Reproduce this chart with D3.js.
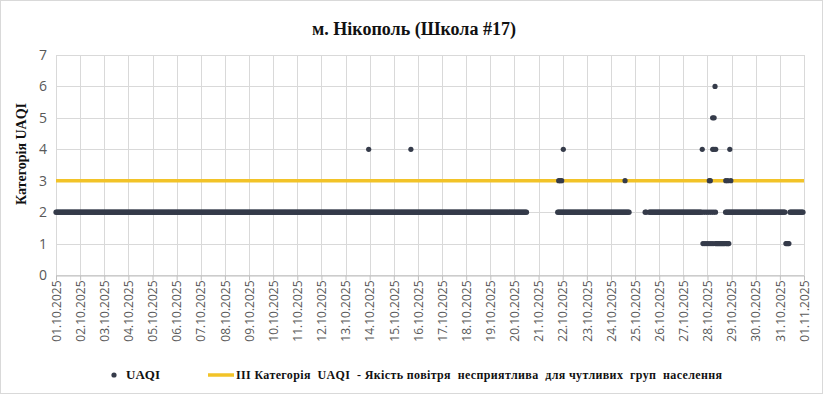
<!DOCTYPE html>
<html>
<head>
<meta charset="utf-8">
<script src="https://cdn.jsdelivr.net/npm/d3@7"></script>
<style>
  body { margin: 0; background: #fff; }
  svg { display: block; }
</style>
</head>
<body>
<svg id="chart" width="823" height="394"></svg>
<script>
// chart texts
const chartTitle = "м. Нікополь (Школа #17)";
const yTitle = "Категорія UAQI";
const seriesName = "UAQI";
const thresholdName = "ІІІ Категорія  UAQI  - Якість повітря  несприятлива  для чутливих  груп  населення";

// x tick labels, one per day
const tickLabels = [
  "01.10.2025", "02.10.2025", "03.10.2025", "04.10.2025", "05.10.2025", "06.10.2025",
  "07.10.2025", "08.10.2025", "09.10.2025", "10.10.2025", "11.10.2025", "12.10.2025",
  "13.10.2025", "14.10.2025", "15.10.2025", "16.10.2025", "17.10.2025", "18.10.2025",
  "19.10.2025", "20.10.2025", "21.10.2025", "22.10.2025", "23.10.2025", "24.10.2025",
  "25.10.2025", "26.10.2025", "27.10.2025", "28.10.2025", "29.10.2025", "30.10.2025",
  "31.10.2025", "01.11.2025"
];
const yTicks = [0, 1, 2, 3, 4, 5, 6, 7];
const thresholdValue = 3;

// hourly readings, hours counted from 01.10.2025 00:00
// stretches of hours where UAQI = 2 [fromHour, toHour]
const runsOf2 = [
  [0, 468], [499, 570], [586, 587], [590, 642], [644, 644], [646, 646],
  [648, 648], [650, 650], [652, 652], [654, 654], [656, 656], [666, 725], [730, 743]
];
// all other readings [hour, UAQI]
const hoursOf1 = [643.5, 645.5, 647.5, 649.5, 651.5, 653.5, 655.9, 657, 658, 659, 660,
  661, 662, 663, 664, 665, 666.5, 667.5, 668.5, 669.2, 726, 727, 728, 729];
const hoursOf3 = [500, 501.5, 503, 566, 649.8, 650.8, 666.2, 668.2, 671.2];
const hoursOf4 = [311, 353, 504.6, 642.8, 653.2, 654.4, 656.2, 670.2];
const hoursOf5 = [653.1, 654.6];
const hoursOf6 = [655.5];

const t0 = Date.UTC(2025, 9, 1);
const hourToDate = h => new Date(t0 + h * 3600e3);

const readings = [];
runsOf2.forEach(([a, b]) => { for (let h = a; h <= b; h++) readings.push([h, 2]); });
[[hoursOf1, 1], [hoursOf3, 3], [hoursOf4, 4], [hoursOf5, 5], [hoursOf6, 6]]
  .forEach(([hs, v]) => hs.forEach(h => readings.push([h, v])));

const svg = d3.select("#chart");
const W = 823, H = 394;

const x = d3.scaleUtc()
  .domain([new Date(t0), hourToDate(31 * 24)])
  .range([56, 804]);
const y = d3.scaleLinear().domain([0, 7]).range([275, 55]);

const dayTicks = tickLabels.map((d, i) => hourToDate(i * 24));

// outer border
svg.append("rect")
  .attr("x", 0.5).attr("y", 0.5)
  .attr("width", W - 1).attr("height", H - 1)
  .attr("fill", "#fff").attr("stroke", "#d9d9d9");

// grid
const grid = svg.append("g").attr("stroke", "#d9d9d9").attr("stroke-width", 1);
grid.selectAll(".gx").data(dayTicks).join("line")
  .attr("x1", d => Math.round(x(d)) + 0.5).attr("x2", d => Math.round(x(d)) + 0.5)
  .attr("y1", y(7)).attr("y2", y(0));
grid.selectAll(".gy").data(yTicks).join("line")
  .attr("x1", x.range()[0]).attr("x2", x.range()[1])
  .attr("y1", d => Math.round(y(d)) + 0.5).attr("y2", d => Math.round(y(d)) + 0.5);

// x axis
const xAxis = svg.append("g")
  .attr("transform", `translate(0,${Math.round(y(0)) + 0.5})`)
  .call(d3.axisBottom(x).tickValues(dayTicks).tickSize(5).tickSizeOuter(0)
    .tickFormat((d, i) => tickLabels[i]));
xAxis.select(".domain").attr("stroke", "#bfbfbf");
xAxis.selectAll(".tick line").attr("stroke", "#bfbfbf");
xAxis.selectAll(".tick text")
  .attr("transform", "rotate(-90)")
  .attr("text-anchor", "end")
  .attr("x", -5).attr("y", 0).attr("dy", "0.35em")
  .attr("fill", "#595959")
  .style("font-family", "'Open Sans', sans-serif")
  .style("font-size", "12px");

// y axis
const yAxis = svg.append("g")
  .attr("transform", "translate(56,0)")
  .call(d3.axisLeft(y).tickValues(yTicks).tickSize(0).tickPadding(9).tickFormat(d3.format("d")));
yAxis.select(".domain").remove();
yAxis.selectAll(".tick text")
  .attr("fill", "#595959")
  .style("font-family", "'Open Sans', sans-serif")
  .style("font-size", "14px");

// threshold line
svg.append("line")
  .attr("x1", x.range()[0]).attr("x2", x.range()[1])
  .attr("y1", y(thresholdValue)).attr("y2", y(thresholdValue))
  .attr("stroke", "#f2c328").attr("stroke-width", 3.5);

// points
svg.append("g").attr("fill", "#353b4a")
  .selectAll("circle").data(readings).join("circle")
  .attr("cx", d => x(hourToDate(d[0])))
  .attr("cy", d => y(d[1]))
  .attr("r", 2.6);

// titles
svg.append("text")
  .attr("x", 414).attr("y", 35)
  .attr("text-anchor", "middle")
  .style("font-family", "'Liberation Serif', serif")
  .style("font-weight", "bold").style("font-size", "18px")
  .attr("fill", "#111")
  .text(chartTitle);

svg.append("text")
  .attr("transform", "translate(26,154) rotate(-90)")
  .attr("text-anchor", "middle")
  .style("font-family", "'Liberation Serif', serif")
  .style("font-weight", "bold").style("font-size", "14px")
  .attr("fill", "#111")
  .text(yTitle);

// legend
const lg = svg.append("g")
  .style("font-family", "'Liberation Serif', serif")
  .style("font-weight", "bold").style("font-size", "12px")
  .attr("fill", "#111");
lg.append("circle").attr("cx", 114).attr("cy", 375).attr("r", 2.6).attr("fill", "#353b4a");
lg.append("text").attr("x", 126).attr("y", 379).style("font-size", "13px").text(seriesName);
lg.append("line").attr("x1", 208).attr("x2", 234).attr("y1", 375).attr("y2", 375)
  .attr("stroke", "#f2c328").attr("stroke-width", 3.5);
lg.append("text").attr("x", 236).attr("y", 379)
  .style("white-space", "pre")
  .attr("textLength", 486).attr("lengthAdjust", "spacing")
  .text(thresholdName);
</script>
</body>
</html>
